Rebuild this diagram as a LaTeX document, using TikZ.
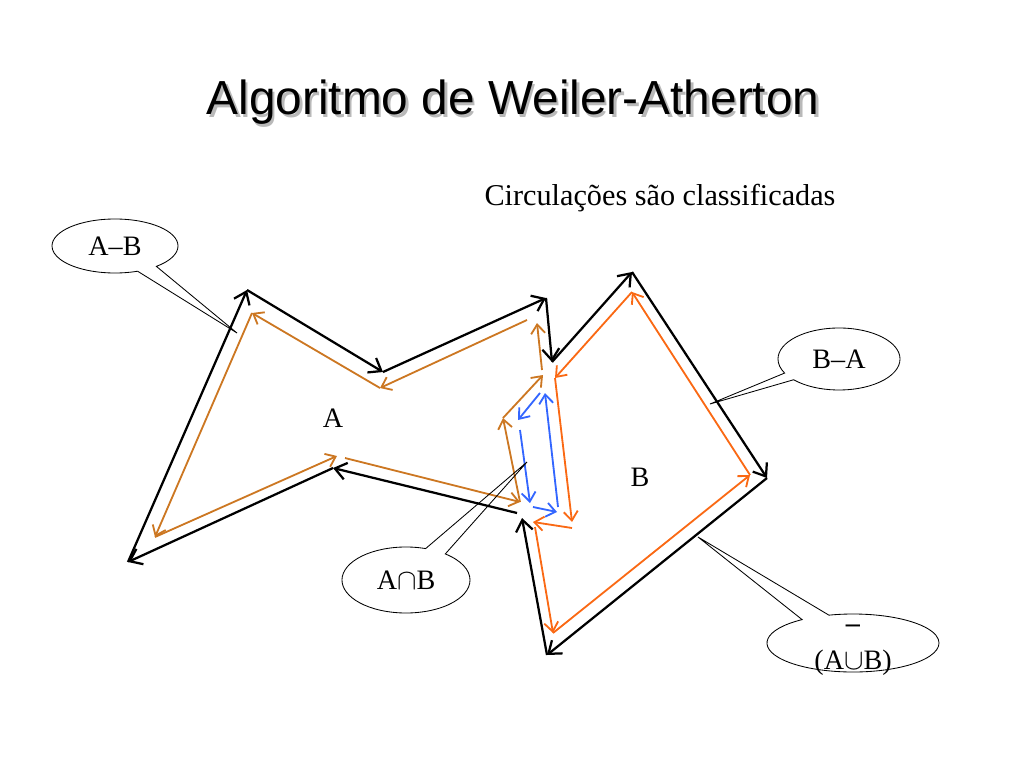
\documentclass[tikz,border=0pt]{standalone}
\usepackage{fontspec}
\setmainfont{Liberation Serif}
\newfontfamily\titlefont{Liberation Sans}
\usetikzlibrary{arrows.meta,shapes.callouts}
\definecolor{darkorange}{RGB}{204,119,34}
\definecolor{brightorange}{RGB}{250,105,20}
\definecolor{loopblue}{RGB}{51,102,255}

\begin{document}
\begin{tikzpicture}[x=0.025cm,y=-0.025cm]

      \useasboundingbox (0,0) rectangle (1024,768);

      \node[text=gray!55,font=\titlefont\fontsize{34}{40}\selectfont,anchor=base] (shadow) at (515.5,117.5) {Algoritmo de Weiler-Atherton};
      \node[font=\titlefont\fontsize{34}{40}\selectfont,anchor=base] (title) at (513,115) {Algoritmo de Weiler-Atherton};
      \node[font=\fontsize{21.5}{26}\selectfont,anchor=base] (subtitle) at (660,205) {Circulações são classificadas};

      \begin{scope}[every node/.style={coordinate}]
        \node (o1)  at (128,562) {};
        \node (o2)  at (247,290) {};
        \node (o3)  at (383,372) {};
        \node (o4)  at (546,298) {};
        \node (o5)  at (552,362) {};
        \node (o6)  at (632,272) {};
        \node (o7)  at (767,478) {};
        \node (o8)  at (547,655) {};
        \node (o9)  at (522,518) {};
        \node (o10) at (517,513) {};
        \node (o11) at (333,468) {};

        \node (a1)  at (527,320) {};
        \node (a2)  at (380,388) {};
        \node (a3)  at (252,313) {};
        \node (a4)  at (155,537) {};
        \node (a5)  at (337,456) {};
        \node (a6)  at (345,458) {};
        \node (a7)  at (520,502) {};
        \node (a8)  at (503,418) {};
        \node (a9)  at (543,375) {};
        \node (a10) at (542,370) {};
        \node (a11) at (537,323) {};

        \node (b1)  at (632,292) {};
        \node (b2)  at (555,378) {};
        \node (b3)  at (572,522) {};
        \node (b4)  at (572,528) {};
        \node (b5)  at (533,522) {};
        \node (b6)  at (535,527) {};
        \node (b7)  at (553,633) {};
        \node (b8)  at (750,475) {};

        \node (c1)  at (540,393) {};
        \node (c2)  at (518,420) {};
        \node (c3)  at (520,430) {};
        \node (c4)  at (530,503) {};
        \node (c5)  at (533,507) {};
        \node (c6)  at (557,512) {};
        \node (c7)  at (558,507) {};
        \node (c8)  at (545,393) {};

        \node (tAB)  at (237,333) {};
        \node (tBA)  at (710,404) {};
        \node (tAnB) at (527,462) {};
        \node (tU)   at (698,537) {};
      \end{scope}

      \begin{scope}[every edge/.style={draw,line width=1.6pt,-{Straight Barb[length=8pt,width=12pt]}}]
        \path (o1)  edge (o2);
        \path (o2)  edge (o3);
        \path (o3)  edge (o4);
        \path (o4)  edge (o5);
        \path (o5)  edge (o6);
        \path (o6)  edge (o7);
        \path (o7)  edge (o8);
        \path (o8)  edge (o9);
        \path (o10) edge (o11);
        \path (o11) edge (o1);
      \end{scope}

      \begin{scope}[every edge/.style={draw,darkorange,line width=1.3pt,-{Straight Barb[length=6.5pt,width=10pt]}}]
        \path (a1)  edge (a2);
        \path (a2)  edge (a3);
        \path (a3)  edge (a4);
        \path (a4)  edge (a5);
        \path (a6)  edge (a7);
        \path (a7)  edge (a8);
        \path (a8)  edge (a9);
        \path (a10) edge (a11);
      \end{scope}

      \begin{scope}[every edge/.style={draw,brightorange,line width=1.3pt,-{Straight Barb[length=6.5pt,width=10pt]}}]
        \path (b1) edge (b2);
        \path (b2) edge (b3);
        \path (b4) edge (b5);
        \path (b6) edge (b7);
        \path (b7) edge (b8);
        \path (b8) edge (b1);
      \end{scope}

      \begin{scope}[every edge/.style={draw,loopblue,line width=1.3pt,-{Straight Barb[length=6.5pt,width=10pt]}}]
        \path (c1) edge (c2);
        \path (c3) edge (c4);
        \path (c5) edge (c6);
        \path (c7) edge (c8);
      \end{scope}

      \begin{scope}[every node/.style={font=\fontsize{20}{24}\selectfont}]
        \node (A) at (333,418) {A};
        \node (B) at (640,477) {B};
      \end{scope}

      \begin{scope}[every node/.style={ellipse callout,draw,line width=0.6pt,inner sep=1pt,callout pointer arc=20,font=\fontsize{20}{24}\selectfont}]
        \node[callout absolute pointer={(tAB)},minimum width=3.15cm,minimum height=1.35cm] (AB) at (115,246) {A--B};
        \node[callout absolute pointer={(tBA)},callout pointer arc=15,minimum width=3.05cm,minimum height=1.55cm] (BA) at (839,359) {B--A};
        \node[callout absolute pointer={(tAnB)},minimum width=3.2cm,minimum height=1.65cm] (AnB) at (406,580) {A$\cap$B};
        \node[callout absolute pointer={(tU)},minimum width=4.3cm,minimum height=1.45cm] (U) at (853,643) {};
      \end{scope}

      \begin{scope}[every node/.style={font=\fontsize{20}{24}\selectfont}]
        \node (bar)   at (853,629) {\bfseries --};
        \node (union) at (853,663) {(A$\cup$B)};
      \end{scope}

    \end{tikzpicture}
\end{document}
